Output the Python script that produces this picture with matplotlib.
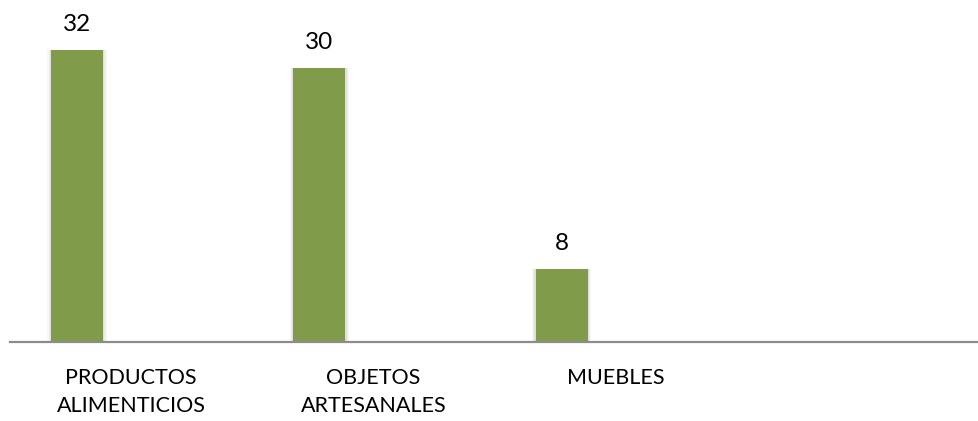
import numpy as np
import matplotlib.pyplot as plt

categories = ["PRODUCTOS\nALIMENTICIOS", "OBJETOS\nARTESANALES", "MUEBLES", ""]
values = [32, 30, 8]

BAR_COLOR = "#809B4A"
AXIS_COLOR = "#8C8C8C"

plt.rcParams["font.family"] = ["Lato", "DejaVu Sans"]

fig = plt.figure(figsize=(9.79, 4.21), dpi=100)
ax = fig.add_axes([10 / 979, 79 / 421, 969 / 979, 342 / 421])

x = np.arange(len(categories))
bar_x = x[:len(values)] - 0.223
width = 0.215

# soft halo around each bar
for grow, alpha in [(0.030, 0.06), (0.020, 0.08), (0.010, 0.12)]:
    ax.bar(bar_x, values, width=width + grow, color="#7a7a7a", alpha=alpha,
           linewidth=0, zorder=1)
bars = ax.bar(bar_x, values, width=width, color=BAR_COLOR, linewidth=0, zorder=2)

for bx, v in zip(bar_x, values):
    ax.annotate(str(v), (bx, v), xytext=(0, 13.7), textcoords="offset points",
                ha="center", va="baseline", fontsize=17.5, color="black")

ax.set_xlim(-0.5, 3.5)
ax.set_ylim(0, 37.5)
ax.set_xticks(x)
ax.set_xticklabels(categories, fontsize=15.5, linespacing=1.45)
ax.tick_params(axis="x", length=0, pad=19)
ax.set_yticks([])

for side in ["top", "right", "left"]:
    ax.spines[side].set_visible(False)
ax.spines["bottom"].set_color(AXIS_COLOR)
ax.spines["bottom"].set_linewidth(1.6)
ax.spines["bottom"].set_zorder(3)

fig.savefig("out.png", dpi=100)
